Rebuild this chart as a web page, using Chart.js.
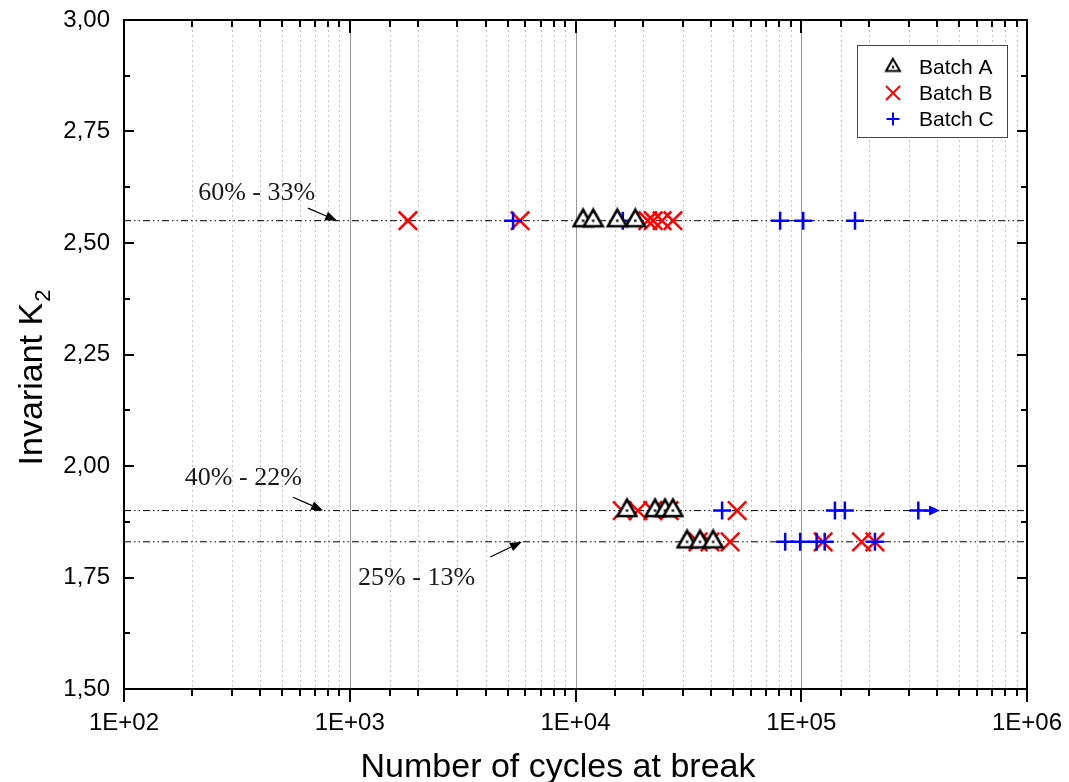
<!DOCTYPE html>
<html>
<head>
<meta charset="utf-8">
<script src="https://cdn.jsdelivr.net/npm/chart.js@4.4.1/dist/chart.umd.min.js"></script>
<style>
  body { margin: 0; background: #fff; }
  #wrap { width: 1069px; height: 782px; }
</style>
</head>
<body>
<div id="wrap"><canvas id="chart" width="1069" height="782"></canvas></div>
<script>
// cycles at break (N) and invariant K2 for each batch
const batchA_N = [10800, 11970, 15300, 18400, 16900, 22500, 24900, 27000, 31200, 35600, 40700];
const batchA_K = [2.55, 2.55, 2.55, 2.55, 1.90, 1.90, 1.90, 1.90, 1.83, 1.83, 1.83];

const batchB_N = [1810, 5680, 20900, 22100, 24200, 27000, 16100, 18900, 22000, 26000, 52000, 34900, 39400, 48400, 125000, 185000, 212000];
const batchB_K = [2.55, 2.55, 2.55, 2.55, 2.55, 2.55, 1.90, 1.90, 1.90, 1.90, 1.90, 1.83, 1.83, 1.83, 1.83, 1.83, 1.83];

const batchC_N = [5290, 16200, 80600, 102000, 173000, 44600, 141000, 156000, 330000, 84900, 98900, 117000, 127000, 212000];
const batchC_K = [2.55, 2.55, 2.55, 2.55, 2.55, 1.90, 1.90, 1.90, 1.90, 1.83, 1.83, 1.83, 1.83, 1.83];

// run-out specimen (test stopped without break)
const runoutN = 330000;
const runoutK = 1.90;
const runoutToN = 412000;

// loading levels
const levels = [2.55, 1.90, 1.83];
const levelLabels = ['60% - 33%', '40% - 22%', '25% - 13%'];
const levelLabelAt = [[213, 2.596], [186, 1.957], [1089, 1.733]];
const levelArrowFrom = [[653, 2.578], [561, 1.930], [4190, 1.796]];
const levelArrowTo = [[880, 2.55], [762, 1.90], [5790, 1.83]];

const legendOrder = ['Batch A', 'Batch B', 'Batch C'];
const xDecades = [1e2, 1e3, 1e4, 1e5, 1e6];
const yTicks = [1.5, 1.75, 2.0, 2.25, 2.5, 2.75, 3.0];

const toPoints = (xs, ys) => xs.map((v, i) => ({ x: v, y: ys[i] }));
const isDecade = v => xDecades.some(d => Math.abs(v - d) / d < 1e-6);

// open triangle with a dot at its centroid
function triangleMarker(size, lw) {
    const th = size * 0.87;
    const c = document.createElement('canvas');
    const w = Math.ceil(size + 4);
    const h = Math.ceil(th * 4 / 3 + 4);
    c.width = w; c.height = h;
    const g = c.getContext('2d');
    const cx = w / 2, cy = h / 2;
    g.beginPath();
    g.moveTo(cx, cy - th * 2 / 3);
    g.lineTo(cx + size / 2, cy + th / 3);
    g.lineTo(cx - size / 2, cy + th / 3);
    g.closePath();
    g.fillStyle = '#fff';
    g.fill();
    g.lineWidth = lw;
    g.strokeStyle = '#000';
    g.stroke();
    g.fillStyle = '#000';
    g.fillRect(cx - 1.2, cy - 1.2, 2.4, 2.4);
    return c;
}

const levelLines = levels.map(k => ({
    type: 'line',
    data: [{ x: xDecades[0], y: k }, { x: xDecades[xDecades.length - 1], y: k }],
    borderColor: '#000',
    borderWidth: 1,
    borderDash: [7, 3, 1.5, 3, 1.5, 3],
    pointRadius: 0,
    showLine: true,
    fill: false
}));

const decor = {
    id: 'decor',
    beforeDatasetsDraw(chart) {
        const { ctx, chartArea: a, scales: { x } } = chart;
        ctx.save();
        ctx.lineWidth = 1;
        x.ticks.forEach(t => {
            const px = Math.round(x.getPixelForValue(t.value)) + 0.5;
            if (px <= a.left + 2 || px >= a.right - 2) return;
            const major = isDecade(t.value);
            ctx.beginPath();
            ctx.setLineDash(major ? [] : [2, 3]);
            ctx.strokeStyle = major ? '#9a9a9a' : '#c2c2c2';
            ctx.moveTo(px, a.top);
            ctx.lineTo(px, a.bottom);
            ctx.stroke();
        });
        ctx.restore();
    },
    afterDatasetsDraw(chart) {
        const { ctx, scales: { x, y } } = chart;
        ctx.save();

        // run-out arrow
        const rx0 = x.getPixelForValue(runoutN) + 6;
        const rx1 = x.getPixelForValue(runoutToN);
        const ry = y.getPixelForValue(runoutK);
        ctx.strokeStyle = '#0000ff';
        ctx.fillStyle = '#0000ff';
        ctx.lineWidth = 2.5;
        ctx.beginPath();
        ctx.moveTo(rx0, ry);
        ctx.lineTo(rx1 - 8, ry);
        ctx.stroke();
        ctx.beginPath();
        ctx.moveTo(rx1, ry);
        ctx.lineTo(rx1 - 11, ry - 5);
        ctx.lineTo(rx1 - 11, ry + 5);
        ctx.closePath();
        ctx.fill();

        // level labels with arrows
        ctx.font = '26px "Liberation Serif", "DejaVu Serif", serif';
        ctx.textBaseline = 'alphabetic';
        ctx.textAlign = 'left';
        levelLabels.forEach((txt, i) => {
            ctx.fillStyle = '#1a1a1a';
            ctx.fillText(txt, x.getPixelForValue(levelLabelAt[i][0]), y.getPixelForValue(levelLabelAt[i][1]));
            const x0 = x.getPixelForValue(levelArrowFrom[i][0]);
            const y0 = y.getPixelForValue(levelArrowFrom[i][1]);
            const x1 = x.getPixelForValue(levelArrowTo[i][0]);
            const y1 = y.getPixelForValue(levelArrowTo[i][1]);
            const ang = Math.atan2(y1 - y0, x1 - x0);
            const hl = 12, hw = 4.5;
            ctx.strokeStyle = '#000';
            ctx.fillStyle = '#000';
            ctx.lineWidth = 1.3;
            ctx.beginPath();
            ctx.moveTo(x0, y0);
            ctx.lineTo(x1 - hl * Math.cos(ang), y1 - hl * Math.sin(ang));
            ctx.stroke();
            ctx.beginPath();
            ctx.moveTo(x1, y1);
            ctx.lineTo(x1 - hl * Math.cos(ang) + hw * Math.sin(ang), y1 - hl * Math.sin(ang) - hw * Math.cos(ang));
            ctx.lineTo(x1 - hl * Math.cos(ang) - hw * Math.sin(ang), y1 - hl * Math.sin(ang) + hw * Math.cos(ang));
            ctx.closePath();
            ctx.fill();
        });
        ctx.restore();
    },
    afterDraw(chart) {
        const { ctx, chartArea: a, scales: { x, y } } = chart;
        ctx.save();

        // frame
        ctx.strokeStyle = '#000';
        ctx.lineWidth = 2;
        ctx.strokeRect(a.left, a.top, a.right - a.left, a.bottom - a.top);

        // x tick marks: outward at bottom, inward at top
        ctx.lineWidth = 2;
        x.ticks.forEach(t => {
            const px = Math.round(x.getPixelForValue(t.value));
            const len = isDecade(t.value) ? 13 : 7;
            ctx.beginPath();
            ctx.moveTo(px, a.bottom);
            ctx.lineTo(px, a.bottom + len);
            ctx.moveTo(px, a.top);
            ctx.lineTo(px, a.top + len);
            ctx.stroke();
        });

        // y tick marks, inward on both sides, with minor ticks between
        const yStep = yTicks[1] - yTicks[0];
        yTicks.forEach((v, i) => {
            const marks = [[v, 10]];
            if (i < yTicks.length - 1) marks.push([v + yStep / 2, 6]);
            marks.forEach(([val, len]) => {
                const py = Math.round(y.getPixelForValue(val));
                ctx.beginPath();
                ctx.moveTo(a.left, py);
                ctx.lineTo(a.left + len, py);
                ctx.moveTo(a.right, py);
                ctx.lineTo(a.right - len, py);
                ctx.stroke();
            });
        });

        // legend
        const lx = 857.5, ly = 45.5, lw = 150, lh = 92;
        ctx.fillStyle = '#fff';
        ctx.fillRect(lx, ly, lw, lh);
        ctx.strokeStyle = '#444';
        ctx.lineWidth = 1;
        ctx.strokeRect(lx, ly, lw, lh);
        ctx.font = '21px "Liberation Sans", Arial, sans-serif';
        ctx.textBaseline = 'middle';
        ctx.textAlign = 'left';
        const rows = [67, 93, 119];
        const sx = 893;
        legendOrder.forEach((name, i) => {
            const d = chart.data.datasets.find(ds => ds.label === name);
            const cy = rows[i];
            if (d.pointStyle instanceof HTMLCanvasElement) {
                const m = triangleMarker(14, 2);
                ctx.drawImage(m, sx - m.width / 2, cy - m.height / 2);
            } else if (d.pointStyle === 'crossRot') {
                ctx.strokeStyle = d.borderColor;
                ctx.lineWidth = 2;
                ctx.beginPath();
                ctx.moveTo(sx - 7, cy - 7); ctx.lineTo(sx + 7, cy + 7);
                ctx.moveTo(sx + 7, cy - 7); ctx.lineTo(sx - 7, cy + 7);
                ctx.stroke();
            } else {
                ctx.strokeStyle = d.borderColor;
                ctx.lineWidth = 2;
                ctx.beginPath();
                ctx.moveTo(sx - 6.5, cy); ctx.lineTo(sx + 6.5, cy);
                ctx.moveTo(sx, cy - 6.5); ctx.lineTo(sx, cy + 6.5);
                ctx.stroke();
            }
            ctx.fillStyle = '#000';
            ctx.fillText(d.label, 919, cy + 1);
        });

        // axis titles
        ctx.fillStyle = '#000';
        ctx.font = '34px "Liberation Sans", Arial, sans-serif';
        ctx.textBaseline = 'alphabetic';
        ctx.textAlign = 'center';
        ctx.fillText('Number of cycles at break', 558, 777);

        ctx.save();
        ctx.translate(42, 378);
        ctx.rotate(-Math.PI / 2);
        ctx.textAlign = 'left';
        const main = 'Invariant K';
        const wMain = ctx.measureText(main).width;
        ctx.font = '22px "Liberation Sans", Arial, sans-serif';
        const wSub = ctx.measureText('2').width;
        const x0 = -(wMain + wSub) / 2;
        ctx.font = '34px "Liberation Sans", Arial, sans-serif';
        ctx.fillText(main, x0, 0);
        ctx.font = '22px "Liberation Sans", Arial, sans-serif';
        ctx.fillText('2', x0 + wMain + 1, 8);
        ctx.restore();

        ctx.restore();
    }
};

Chart.defaults.font.family = '"Liberation Sans", Arial, sans-serif';
Chart.defaults.color = '#000';

new Chart(document.getElementById('chart'), {
    type: 'scatter',
    data: {
        datasets: [
            {
                label: 'Batch A',
                data: toPoints(batchA_N, batchA_K),
                pointStyle: triangleMarker(19, 2.6),
                pointRadius: 10,
                borderColor: '#000',
                backgroundColor: '#fff'
            },
            {
                label: 'Batch C',
                data: toPoints(batchC_N, batchC_K),
                pointStyle: 'cross',
                pointRadius: 9,
                borderWidth: 2.5,
                borderColor: '#0000ff',
                backgroundColor: '#0000ff'
            },
            {
                label: 'Batch B',
                data: toPoints(batchB_N, batchB_K),
                pointStyle: 'crossRot',
                pointRadius: 13,
                borderWidth: 2.5,
                borderColor: '#ff0000',
                backgroundColor: '#ff0000'
            },
            ...levelLines
        ]
    },
    options: {
        responsive: false,
        animation: false,
        events: [],
        layout: { padding: { top: 20, right: 42, left: 0, bottom: 0 } },
        plugins: {
            legend: { display: false },
            tooltip: { enabled: false }
        },
        scales: {
            x: {
                type: 'logarithmic',
                min: xDecades[0],
                max: xDecades[xDecades.length - 1],
                grid: { display: false, drawTicks: false },
                border: { display: false },
                ticks: {
                    autoSkip: false,
                    maxRotation: 0,
                    padding: 20,
                    font: { size: 24 },
                    callback: v => isDecade(v) ? '1E+' + String(Math.round(Math.log10(v))).padStart(2, '0') : ''
                },
                afterFit: s => {
                    s.height = 93;
                    s.paddingLeft = 0;
                    s.paddingRight = 0;
                }
            },
            y: {
                type: 'linear',
                min: yTicks[0],
                max: yTicks[yTicks.length - 1],
                grid: { display: false, drawTicks: false },
                border: { display: false },
                ticks: {
                    stepSize: yTicks[1] - yTicks[0],
                    padding: 14,
                    font: { size: 24 },
                    callback: v => v.toFixed(2).replace('.', ',')
                },
                afterFit: s => {
                    s.width = 124;
                    s.paddingTop = 0;
                    s.paddingBottom = 0;
                }
            }
        }
    },
    plugins: [decor]
});
</script>
</body>
</html>
